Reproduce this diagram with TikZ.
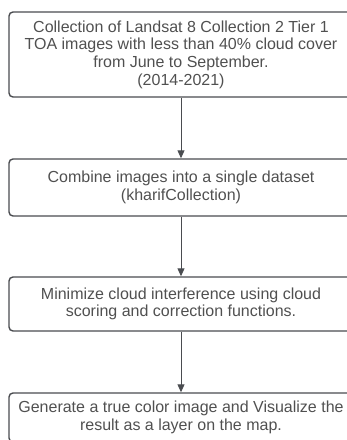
\documentclass[tikz,border=0pt]{standalone}
\usepackage{fontspec}
\setmainfont{Liberation Sans}
\usetikzlibrary{arrows.meta}
\usetikzlibrary{positioning}
\definecolor{boxline}{HTML}{4A4C50}
\definecolor{boxtext}{HTML}{505050}

\begin{document}
\begin{tikzpicture}[x=1pt,y=-1pt,every node/.style={draw=boxline,line width=1.4pt,rounded corners=4pt,rectangle,minimum width=344pt,align=center,inner sep=0pt,text=boxtext,font=\fontsize{16}{17.6}\selectfont}]
\path[use as bounding box,clip] (0,0) rectangle (347,440);
\node[minimum height=85pt] (collect) at (181,54.5) {Collection of Landsat 8 Collection 2 Tier 1\\TOA images with less than 40\% cloud cover\\from June to September.\\(2014-2021)};
\node[minimum height=57pt] (combine) at (181,187.5) {Combine images into a single dataset\\(kharifCollection)};
\node[minimum height=54pt] (cloud) at (181,304) {Minimize cloud interference using cloud\\scoring and correction functions.};
\node[minimum height=49pt] (visual) at (181,417.5) {Generate a true color image and Visualize the\\result as a layer on the map.};
\begin{scope}[draw=boxline,line width=0.9pt,-{Triangle[width=7pt,length=8pt]}]
\draw (collect) -- (combine);
\draw (combine) -- (cloud);
\draw (cloud) -- (visual);
\end{scope}
\end{tikzpicture}
\end{document}
